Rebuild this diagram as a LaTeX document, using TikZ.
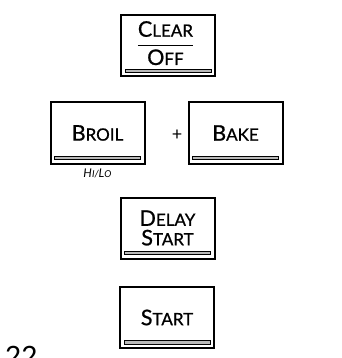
\documentclass[tikz,border=0pt]{standalone}
\usepackage{fontspec}
\setmainfont{Lato}
\newfontfamily\keyfont{Lato}[FakeBold=0.8]
\usetikzlibrary{positioning}

% fake small caps: big first letter, smaller rest
\newcommand\keycap[2]{{\keyfont\fontsize{21.5}{19.5}\selectfont #1}{\keyfont\fontsize{17}{19.5}\selectfont #2}}
\newcommand\subcap[2]{{\fontsize{12}{11}\selectfont #1}{\fontsize{9.5}{11}\selectfont #2}}

\begin{document}
\begin{tikzpicture}[
        x=1pt, y=-1pt,
        every node/.style={font=\fontsize{20}{19.5}\selectfont},
        key/.style={draw=black, line width=2pt, fill=white, minimum width=94pt, minimum height=61pt, inner sep=0pt, align=center,
            path picture={
                \filldraw[fill=gray!55, draw=black, line width=0.7pt]
                    ([xshift=4pt,yshift=4pt]path picture bounding box.south west)
                    rectangle ([xshift=-4pt,yshift=7.5pt]path picture bounding box.south east);
            }},
        note/.style={inner sep=0pt}
    ]
        \useasboundingbox (0,0) rectangle (341,358);
        \clip (0,0) rectangle (341,358);

        \node[key] (clear) at (168,46) {
            \setlength\arrayrulewidth{1.4pt}\renewcommand\arraystretch{1}%
            \begin{tabular}{@{}c@{}}\keycap{C}{LEAR}\\[2pt]\hline\rule{0pt}{19pt}\keycap{O}{FF}\end{tabular}
        };
        \node[key] (broil) at (97.5,133) {\keycap{B}{ROIL}};
        \node[key] (bake) at (235.5,133) {\keycap{B}{AKE}};
        \node[note, font=\fontsize{18}{18}\selectfont] (plus) at (177,135) {+};
        \node[note, below=4pt of broil, font=\itshape] (hilo) {\subcap{H}{I}/\subcap{L}{O}};
        \node[key] (delay) at (167.5,228) {\keycap{D}{ELAY}\\\keycap{S}{TART}};
        \node[key] (start) at (167,317.5) {\keycap{S}{TART}};

        \node[note, anchor=north west, font=\fontsize{28}{30}\selectfont] (page) at (5,346) {22};
    \end{tikzpicture}
\end{document}
